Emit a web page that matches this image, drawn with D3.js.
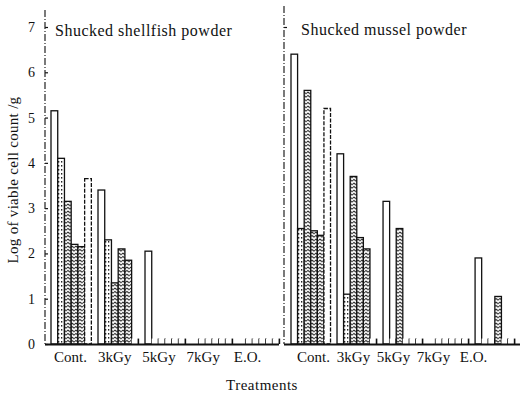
<!DOCTYPE html>
<html><head><meta charset="utf-8">
<script src="https://cdn.jsdelivr.net/npm/d3@7"></script>
<style>
body{margin:0;background:#fff}
svg{display:block}
text{font-family:"Liberation Serif","DejaVu Serif",serif;fill:#111}
</style>
</head><body>
<svg id="c" width="522" height="395"></svg>
<script>
const treatments = ["Cont.", "3kGy", "5kGy", "7kGy", "E.O."];
const seriesIds = ["a", "b", "c", "d", "e", "f"];
const seriesStyle = ["open", "hatchLight", "hatch", "hatch", "hatch", "dashed"];
const yTicks = [0, 1, 2, 3, 4, 5, 6, 7];
const panelTitles = ["Shucked shellfish powder", "Shucked mussel powder"];
// log viable cell count / g, one row per treatment, one value per bar
const shellfish = [
  [5.15, 4.1, 3.15, 2.2, 2.15, 3.65],
  [3.4, 2.3, 1.35, 2.1, 1.85, 0.12],
  [2.05, 0.12, 0.12, 0.12, 0.12, 0.12],
  [0.12, 0.12, 0.12, 0.12, 0.12, 0.12],
  [0.12, 0.12, 0.12, 0.12, 0.12, 0.12]
];
const mussel = [
  [6.4, 2.55, 5.6, 2.5, 2.4, 5.2],
  [4.2, 1.1, 3.7, 2.35, 2.1, 0.12],
  [3.15, 0.12, 2.55, 0.12, 0.12, 0.12],
  [0.12, 0.12, 0.12, 0.12, 0.12, 0.12],
  [1.9, 0.12, 0.12, 1.05, 0.12, 0.12]
];

const svg = d3.select("#c");
const defs = svg.append("defs");
const ph = defs.append("pattern").attr("id","hatch").attr("patternUnits","userSpaceOnUse")
  .attr("width",4).attr("height",3.5);
ph.append("rect").attr("width",4).attr("height",3.5).attr("fill","#fff");
ph.append("path").attr("d","M0,1.8 Q1,0.4 2,1.8 T4,1.8").attr("fill","none").attr("stroke","#111").attr("stroke-width",1.1);
const pl = defs.append("pattern").attr("id","hatchLight").attr("patternUnits","userSpaceOnUse")
  .attr("width",3).attr("height",4);
pl.append("rect").attr("width",3).attr("height",4).attr("fill","#fff");
pl.append("rect").attr("x",1).attr("y",1).attr("width",1.3).attr("height",1.6).attr("fill","#222");

const y = d3.scaleLinear().domain([0, 7]).range([344, 27]);

const panels = [
  {data: shellfish, bars: [51, 51 + 47 * 4.859], axisX: 45, baseEnd: 279, axisTop: 10,
   labels: [70, 247], title: panelTitles[0], titleX: 55, titleY: 36, tickLabels: true},
  {data: mussel, bars: [291, 291 + 46 * 4.861], axisX: 284, baseEnd: 520, axisTop: 6,
   labels: [313, 473], title: panelTitles[1], titleX: 301, titleY: 35, tickLabels: false}
];

panels.forEach(p => {
  const x0 = d3.scaleBand().domain(treatments).range(p.bars).paddingInner(0.1413).paddingOuter(0);
  const x1 = d3.scaleBand().domain(seriesIds).range([0, x0.bandwidth()]).padding(0);
  const g = svg.append("g");
  const groups = g.selectAll("g.grp").data(treatments).join("g")
    .attr("transform", t => `translate(${x0(t)},0)`);
  groups.each(function(t, ti) {
    d3.select(this).selectAll("rect").data(p.data[ti]).join("rect")
      .attr("x", (v, i) => x1(seriesIds[i]))
      .attr("width", x1.bandwidth())
      .attr("y", v => y(v))
      .attr("height", v => y(0) - y(v))
      .attr("fill", (v, i) => seriesStyle[i].startsWith("hatch") && v > 0.15 ? `url(#${seriesStyle[i]})` : "#fff")
      .attr("stroke", "#111")
      .attr("stroke-width", v => v < 0.15 ? 1.6 : 1.3)
      .attr("stroke-dasharray", (v, i) => {
        const w = x1.bandwidth(), h = y(0) - y(v);
        if (v < 0.15) return `0,${w},${h},${w + h}`;
        return seriesStyle[i] === "dashed" ? "4,1.5" : null;
      });
  });

  // y axis
  const yAxis = d3.axisLeft(y).tickValues(p.tickLabels ? yTicks : [7])
    .tickSizeInner(-3).tickSizeOuter(0).tickPadding(10)
    .tickFormat(p.tickLabels ? d3.format("d") : () => "");
  const ya = svg.append("g").attr("transform", `translate(${p.axisX},0)`).call(yAxis);
  ya.select(".domain").remove();
  ya.selectAll("text").attr("font-size", 14).attr("font-family", "Liberation Serif");
  ya.selectAll("line").attr("stroke", "#111").attr("stroke-width", 1.2);
  svg.append("line").attr("x1", p.axisX).attr("x2", p.axisX)
    .attr("y1", p.axisTop).attr("y2", y(0))
    .attr("stroke", "#222").attr("stroke-width", 1.2).attr("stroke-dasharray", "7,2,1,2");

  // baseline
  svg.append("line").attr("x1", p.axisX).attr("x2", p.baseEnd)
    .attr("y1", y(0) + 0.5).attr("y2", y(0) + 0.5).attr("stroke", "#111").attr("stroke-width", 2);

  // category labels
  const xl = d3.scalePoint().domain(treatments).range(p.labels);
  const xa = svg.append("g").attr("transform", `translate(0,${y(0) + 2})`)
    .call(d3.axisBottom(xl).tickSize(0).tickPadding(5));
  xa.select(".domain").remove();
  xa.selectAll("text").attr("font-size", 15).attr("font-family", "Liberation Serif");

  svg.append("text").attr("x", p.titleX).attr("y", p.titleY)
    .attr("font-size", 16).attr("letter-spacing", 0.5).text(p.title);
});

svg.append("text").attr("transform", "translate(18,180) rotate(-90)")
  .attr("text-anchor", "middle").attr("font-size", 15).attr("letter-spacing", 0.3)
  .text("Log of viable cell count /g");
svg.append("text").attr("x", 262).attr("y", 390).attr("text-anchor", "middle")
  .attr("font-size", 15).attr("letter-spacing", 0.5).text("Treatments");
</script>
</body></html>
